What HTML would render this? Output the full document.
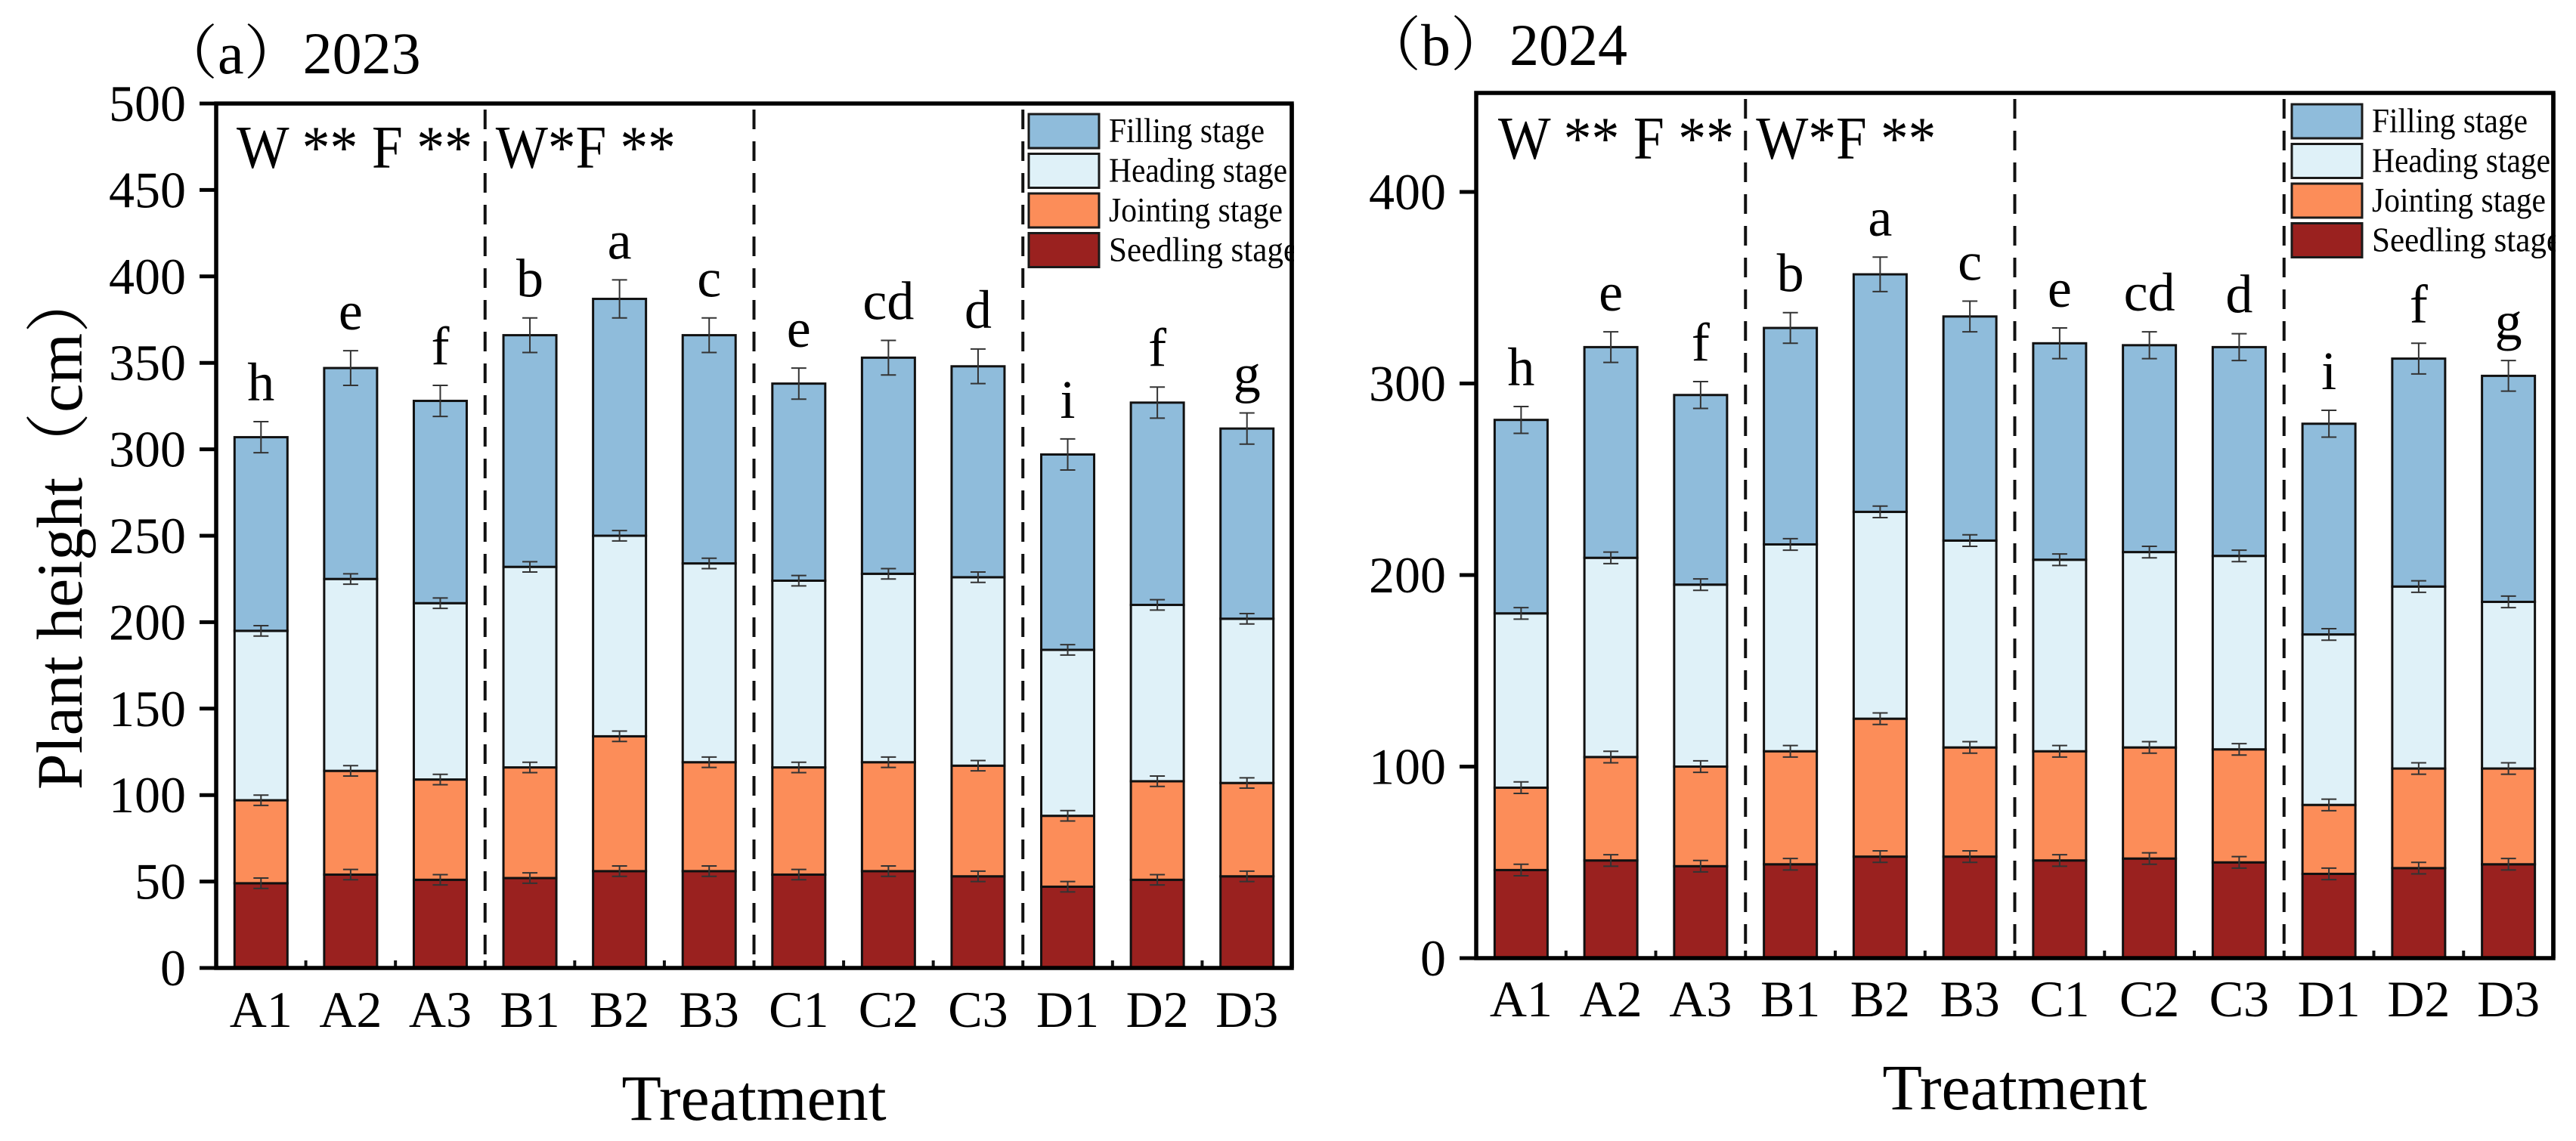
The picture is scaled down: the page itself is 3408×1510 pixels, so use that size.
<!DOCTYPE html>
<html><head><meta charset="utf-8">
<style>
html,body{margin:0;padding:0;background:#fff;}
svg{display:block;font-family:"Liberation Serif","Noto Serif CJK SC",serif;}
</style></head>
<body>
<svg id="chart" width="3408" height="1510" viewBox="0 0 3408 1510" xmlns="http://www.w3.org/2000/svg"></svg>
<script>
const categories = ["A1","A2","A3","B1","B2","B3","C1","C2","C3","D1","D2","D3"];
const letters2023 = ["h","e","f","b","a","c","e","cd","d","i","f","g"];
const letters2024 = ["h","e","f","b","a","c","e","cd","d","i","f","g"];
// cumulative stage tops (cm)
const seedling2023 = [49,54,51,52,56,56,54,56,53,47,51,53];
const jointing2023 = [97,114,109,116,134,119,116,119,117,88,108,107];
const heading2023  = [195,225,211,232,250,234,224,228,226,184,210,202];
const filling2023  = [307,347,328,366,387,366,338,353,348,297,327,312];
const seedling2024 = [46,51,48,49,53,53,51,52,50,44,47,49];
const jointing2024 = [89,105,100,108,125,110,108,110,109,80,99,99];
const heading2024  = [180,209,195,216,233,218,208,212,210,169,194,186];
const filling2024  = [281,319,294,329,357,335,321,320,319,279,313,304];
const errSmall = [3,3,3,3,3,3,3,3,3,3,3,3];
const errTop2023 = [9,10,9,10,11,10,9,10,10,9,9,9];
const errTop2024 = [7,8,7,8,9,8,8,7,7,7,8,8];
const ticks2023 = [0,50,100,150,200,250,300,350,400,450,500];
const ticks2024 = [0,100,200,300,400];
const stageNames = ["Filling stage","Heading stage","Jointing stage","Seedling stage"];
const stageColors = ["#8fbcdb","#dff1f8","#fc8d59","#9a211f"];
const legendWidths = [206,236,230,250];

const NS="http://www.w3.org/2000/svg";
const svg=document.getElementById('chart');
function mk(tag,attrs,parent){const e=document.createElementNS(NS,tag);for(const k in attrs)e.setAttribute(k,attrs[k]);(parent||svg).appendChild(e);return e;}

function panel(cfg){
  const g=mk('g',{});
  
  
  const L=cfg.left,R=cfg.right,T=cfg.top,B=cfg.bottom;
  const y=v=>B-(v/cfg.ymax)*(B-T);
  const band=(R-L)/categories.length;
  const xc=i=>L+band*(i+0.5);
  const bw=70;
  const stacks=[cfg.seed,cfg.joint,cfg.head,cfg.fill];
  const cols=[stageColors[3],stageColors[2],stageColors[1],stageColors[0]];
  const snames=['seedling','jointing','heading','filling'];
  categories.forEach((c,i)=>{
    let prev=0;
    stacks.forEach((arr,s)=>{
      const r=mk('rect',{x:xc(i)-bw/2,y:y(arr[i]),width:bw,height:y(prev)-y(arr[i]),fill:cols[s],stroke:'#111','stroke-width':3},g);
      
      
      prev=arr[i];
    });
    stacks.forEach((arr,s)=>{
      const e=(s===3?cfg.errTop:errSmall)[i];
      const eg=mk('g',{stroke:'#333','stroke-width':2},g);
      
      
      mk('line',{x1:xc(i),x2:xc(i),y1:y(arr[i]+e),y2:y(arr[i]-e)},eg);
      mk('line',{x1:xc(i)-10,x2:xc(i)+10,y1:y(arr[i]+e),y2:y(arr[i]+e)},eg);
      mk('line',{x1:xc(i)-10,x2:xc(i)+10,y1:y(arr[i]-e),y2:y(arr[i]-e)},eg);
    });
    const t=mk('text',{x:xc(i),y:y(cfg.fill[i]+cfg.errTop[i])-28,'font-size':72,'text-anchor':'middle'},g);
    t.textContent=cfg.letters[i];
    
    
    const xl=mk('text',{x:xc(i),y:cfg.xlabY,'font-size':68,'text-anchor':'middle'},g);
    xl.textContent=c;
    
    
  });
  [3,6,9].forEach(k=>{
    const d=mk('line',{x1:L+band*k,x2:L+band*k,y1:T+8,y2:B,stroke:'#111','stroke-width':4,'stroke-dasharray':'26 16'},g);
    
    
    mk('line',{x1:L+band*k,x2:L+band*k,y1:B,y2:B-10,stroke:'#111','stroke-width':4},g);
  });
  for(let k=1;k<12;k++){ if(k%3) mk('line',{x1:L+band*k,x2:L+band*k,y1:B,y2:B-10,stroke:'#111','stroke-width':4},g); }
  cfg.ticks.forEach(v=>{
    mk('line',{x1:L-22,x2:L,y1:y(v),y2:y(v),stroke:'#000','stroke-width':5},g);
    const t=mk('text',{x:L-40,y:y(v)+23,'font-size':68,'text-anchor':'end'},g);
    t.textContent=v;
    
    
  });
  const f=mk('rect',{x:L,y:T,width:R-L,height:B-T,fill:'none',stroke:'#000','stroke-width':5.5},g);
  
  
  const lg=mk('g',{},g);
  
  
  stageNames.forEach((n,s)=>{
    const ly=cfg.legY+s*52.5;
    mk('rect',{x:cfg.legX,y:ly,width:93,height:45,fill:stageColors[s],stroke:'#1a1a1a','stroke-width':3},lg);
    const t=mk('text',{x:cfg.legX+106,y:ly+37,'font-size':46,textLength:legendWidths[s],lengthAdjust:'spacingAndGlyphs'},lg);
    t.textContent=n;
    
    
  });
  mk('rect',{x:R+3,y:T,width:40,height:300,fill:'#fff'},g);
  mk('line',{x1:R,x2:R,y1:T,y2:B,stroke:'#000','stroke-width':5.5},g);
  const s1=mk('text',{x:cfg.statX,y:cfg.statY,'font-size':80,textLength:312,lengthAdjust:'spacingAndGlyphs'},g);
  s1.textContent='W ** F **';
  
  
  const s2=mk('text',{x:L+band*3+14,y:cfg.statY,'font-size':80,textLength:238,lengthAdjust:'spacingAndGlyphs'},g);
  s2.textContent='W*F **';
  
  
  const ti=mk('text',{x:cfg.titleX,y:cfg.titleY,'font-size':78},g);
  ti.textContent=cfg.title;
  
  
  const xt=mk('text',{x:(L+R)/2,y:cfg.xtY,'font-size':86,'text-anchor':'middle'},g);
  xt.textContent='Treatment';
  
  
}

panel({id:'2023',left:286,right:1709,top:137,bottom:1281,ymax:500,seed:seedling2023,joint:jointing2023,head:heading2023,fill:filling2023,errTop:errTop2023,letters:letters2023,ticks:ticks2023,legX:1361,legY:151,statX:313,statY:222,title:'（a）2023',titleX:210,titleY:97,xlabY:1359,xtY:1482});
panel({id:'2024',left:1953,right:3378,top:123,bottom:1268,ymax:451.7,seed:seedling2024,joint:jointing2024,head:heading2024,fill:filling2024,errTop:errTop2024,letters:letters2024,ticks:ticks2024,legX:3032,legY:138,statX:1982,statY:210,title:'（b）2024',titleX:1802,titleY:86,xlabY:1345,xtY:1468});

const yl=mk('text',{x:0,y:0,'font-size':86,'text-anchor':'middle',transform:'translate(108,700) rotate(-90)'});
yl.textContent='Plant height（cm）';


</script>
</body></html>
